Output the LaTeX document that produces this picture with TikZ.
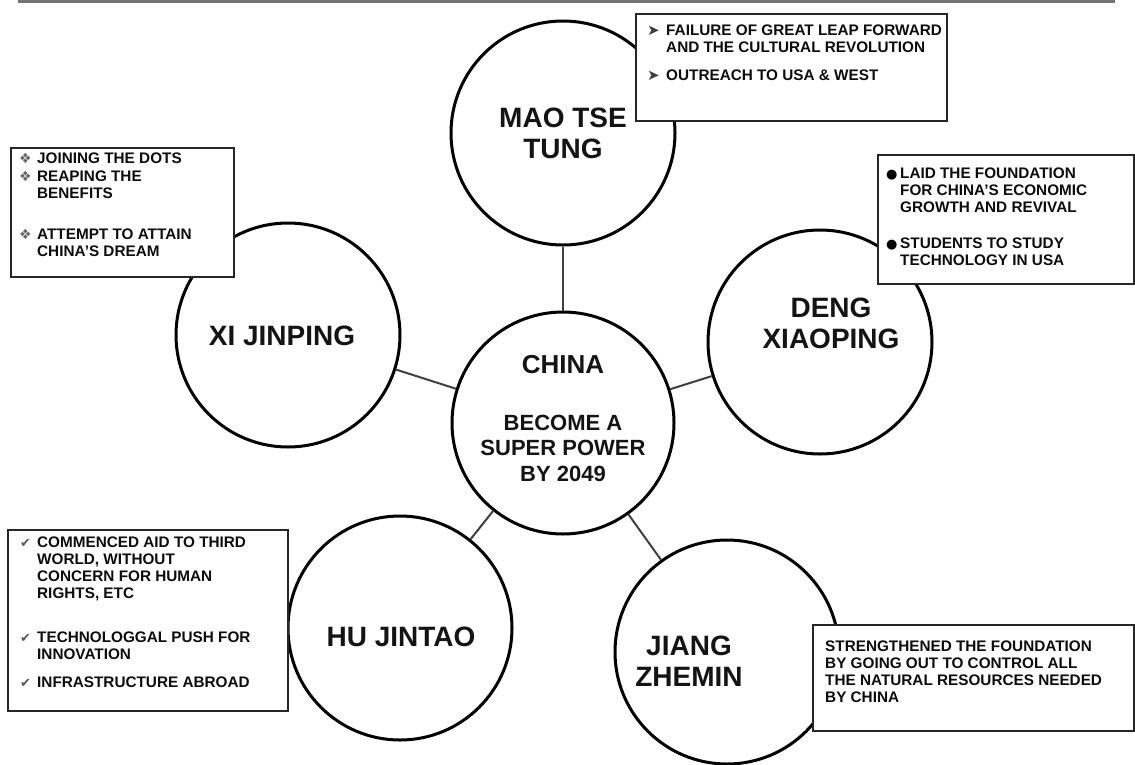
\documentclass[tikz,border=0pt]{standalone}
\usepackage{fontspec}
\setmainfont{Liberation Sans}
\newfontfamily\symfont{DejaVu Sans}
\begin{document}
\begin{tikzpicture}[x=1pt,y=-1pt,
  circ/.style={circle, draw=black, line width=3pt, minimum size=224pt, inner sep=0pt, fill=white},
  conn/.style={draw=black!75, line width=2pt},
  box/.style={draw=black!85, line width=2.2pt, fill=white, anchor=north west, inner sep=0pt},
  lbl/.style={font=\fontsize{28}{31}\selectfont\bfseries, align=center, inner sep=0pt, anchor=base, text=black!92},
  txt/.style={font=\fontsize{15.3}{17}\selectfont\bfseries, align=left, anchor=base west, inner sep=0pt, text=black!95},
  arrowb/.style={font=\symfont\fontsize{15}{15}\selectfont, text=black!75, anchor=base west, inner sep=0pt},
  diab/.style={font=\symfont\fontsize{14}{14}\selectfont, text=black!60, anchor=base west, inner sep=0pt},
  dotb/.style={font=\symfont\fontsize{13}{13}\selectfont, text=black, anchor=base west, inner sep=0pt},
  checkb/.style={font=\symfont\fontsize{13}{13}\selectfont, text=black!65, anchor=base west, inner sep=0pt},
  ]
\useasboundingbox (0,0) rectangle (1135,764);
\fill[white] (0,0) rectangle (1135,764);
% top rule
\coordinate (r1) at (18,1.5);
\coordinate (r2) at (1115,1.5);
\draw[line width=3pt, black!55] (r1) -- (r2);

% circles
\node[circ] (mao) at (563,133) {};
\node[circ, minimum size=222pt] (china) at (563,423) {};
\node[circ] (xi) at (288,335) {};
\node[circ] (deng) at (820,342) {};
\node[circ] (hu) at (400,628) {};
\node[circ] (jiang) at (727,652) {};

% connectors
\draw[conn] (china) -- (mao);
\draw[conn] (china) -- (xi);
\draw[conn] (china) -- (deng);
\draw[conn] (china) -- (hu);
\draw[conn] (china) -- (jiang);

% circle labels (anchor = baseline of last line)
\node[lbl] (maol) at (563,158) {MAO TSE\\TUNG};
\node[lbl] (xil) at (282,345) {XI JINPING};
\node[lbl] (dengl) at (831,348) {DENG\\XIAOPING};
\node[lbl] (hul) at (401,646) {HU JINTAO};
\node[lbl] (jiangl) at (689,686) {JIANG\\ZHEMIN};
\node[lbl, font=\fontsize{26}{26}\selectfont\bfseries] (chinal) at (563,373) {CHINA};
\node[lbl, font=\fontsize{22}{25.5}\selectfont\bfseries] (goal) at (563,481) {BECOME A\\SUPER POWER\\BY 2049};

% boxes
\node[box, minimum width=311pt, minimum height=107pt] (maobox) at (635,13) {};
\node[box, minimum width=223pt, minimum height=129pt] (xibox) at (10,147) {};
\node[box, minimum width=256pt, minimum height=129pt] (dengbox) at (877,154) {};
\node[box, minimum width=280pt, minimum height=181pt] (hubox) at (7,529) {};
\node[box, minimum width=321pt, minimum height=106pt] (jiangbox) at (812,624) {};

% Mao box text
\node[arrowb] (mb1) at (647,35) {➤};
\node[txt] (mt1) at (666,52) {FAILURE OF GREAT LEAP FORWARD\\AND THE CULTURAL REVOLUTION};
\node[arrowb] (mb2) at (647,80) {➤};
\node[txt] (mt2) at (666,80) {OUTREACH TO USA \& WEST};

% Xi box text
\node[diab] (xb1) at (19,163) {❖};
\node[txt] (xt1) at (37,163) {JOINING THE DOTS};
\node[diab] (xb2) at (19,181) {❖};
\node[txt] (xt2) at (37,198) {REAPING THE\\BENEFITS};
\node[diab] (xb3) at (19,239) {❖};
\node[txt] (xt3) at (37,256) {ATTEMPT TO ATTAIN\\CHINA'S DREAM};

% Deng box text
\node[dotb] (db1) at (886,178) {●};
\node[txt] (dt1) at (900,212) {LAID THE FOUNDATION\\FOR CHINA'S ECONOMIC\\GROWTH AND REVIVAL};
\node[dotb] (db2) at (886,248) {●};
\node[txt] (dt2) at (900,265) {STUDENTS TO STUDY\\TECHNOLOGY IN USA};

% Hu box text
\node[checkb] (hb1) at (20,547) {✔};
\node[txt] (ht1) at (37,598) {COMMENCED AID TO THIRD\\WORLD, WITHOUT\\CONCERN FOR HUMAN\\RIGHTS, ETC};
\node[checkb] (hb2) at (20,642) {✔};
\node[txt] (ht2) at (37,659) {TECHNOLOGGAL PUSH FOR\\INNOVATION};
\node[checkb] (hb3) at (20,687) {✔};
\node[txt] (ht3) at (37,687) {INFRASTRUCTURE ABROAD};

% Jiang box text
\node[txt] (jt1) at (825,702) {STRENGTHENED THE FOUNDATION\\BY GOING OUT TO CONTROL ALL\\THE NATURAL RESOURCES NEEDED\\BY CHINA};
\end{tikzpicture}
\end{document}
